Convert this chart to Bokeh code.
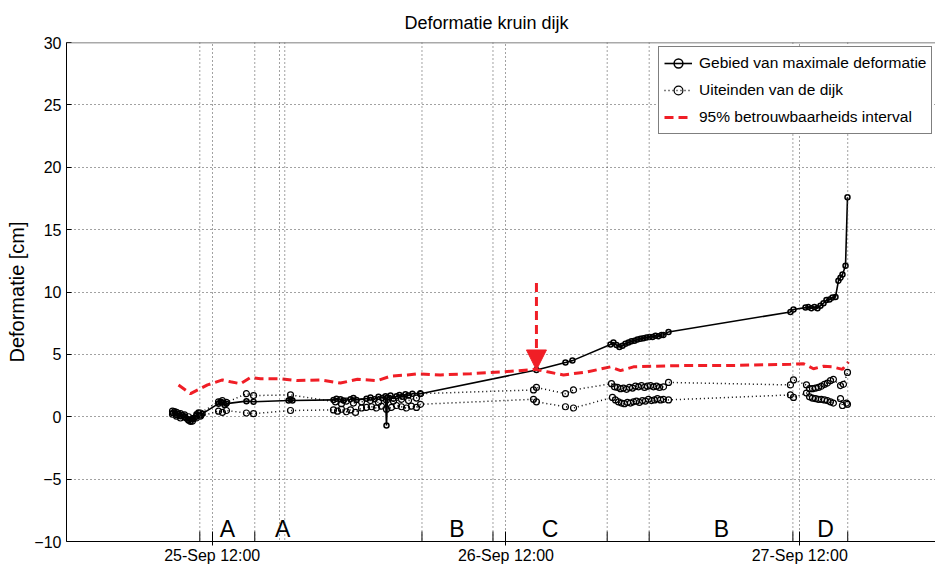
from bokeh.plotting import figure
from bokeh.models import Span, Legend, LegendItem, FixedTicker, Arrow, NormalHead
from bokeh.core.properties import value
from bokeh.embed import file_html
from bokeh.resources import INLINE

FONT = "Liberation Sans"

# time axis: hours since 25-Sep 00:00
tick_hours = [12, 36, 60]
tick_labels = ["25-Sep 12:00", "26-Sep 12:00", "27-Sep 12:00"]
y_ticks = [-10, -5, 0, 5, 10, 15, 20, 25, 30]

# Gebied van maximale deformatie
t_main = [8.76, 8.92, 9.09, 9.25, 9.41, 9.58, 9.74, 9.90, 10.07, 10.23, 10.39, 10.56, 10.72, 10.88, 11.05, 11.21,
          12.52, 12.68, 12.84, 13.01, 13.17, 14.80, 15.38, 18.24, 18.40, 18.56,
          21.91, 22.16, 22.48, 22.73, 23.30, 23.54, 23.79, 24.61, 24.93, 25.26, 25.59, 25.91, 26.16, 26.24,
          26.32, 26.57, 26.81, 27.06, 27.30, 27.55, 27.79, 28.04, 28.36, 29.02,
          38.49, 40.86, 41.43,
          44.54, 44.78, 45.03, 45.27, 45.52, 45.76, 46.01, 46.25, 46.50, 46.74, 46.99, 47.23, 47.48, 47.73,
          47.97, 48.22, 48.46, 48.71, 48.87, 49.28,
          59.24, 59.49, 60.47, 60.71, 60.96, 61.20, 61.45, 61.69, 61.94, 62.18, 62.43, 62.67, 62.92, 63.16,
          63.33, 63.49, 63.74, 63.90]
v_main = [0.30, 0.45, 0.15, 0.25, 0.05, 0.15, -0.05, -0.15, -0.30, -0.40, -0.20, -0.10, 0.20, 0.35, 0.10, 0.25,
          1.05, 1.20, 1.15, 0.95, 1.05, 1.25, 1.20, 1.30, 1.40, 1.30,
          1.35, 1.45, 1.40, 1.30, 1.40, 1.50, 1.35, 1.45, 1.55, 1.40, 1.60, 1.50, 1.65, -0.70,
          1.55, 1.70, 1.45, 1.65, 1.75, 1.60, 1.80, 1.70, 1.85, 1.85,
          3.75, 4.35, 4.50,
          5.80, 5.95, 5.75, 5.60, 5.70, 5.85, 5.95, 6.05, 6.10, 6.20, 6.25, 6.30, 6.35, 6.40,
          6.40, 6.50, 6.45, 6.55, 6.55, 6.80,
          8.40, 8.60, 8.75, 8.80, 8.70, 8.80, 8.70, 8.90, 9.10, 9.35, 9.40, 9.55, 9.60, 10.90,
          11.15, 11.40, 12.10, 17.60]

# Uiteinden van de dijk (upper end)
t_end1 = [8.76, 9.09, 9.41, 9.74, 10.07, 10.39, 10.72, 11.05,
          12.52, 12.84, 13.17, 14.80, 15.38, 18.40,
          22.07, 22.56, 22.97, 23.54, 24.20, 24.93, 25.59, 26.24, 26.81, 27.47, 28.04, 28.69, 29.02,
          38.25, 38.49, 40.86, 41.52,
          44.62, 44.87, 45.11, 45.36, 45.60, 45.85, 46.09, 46.34, 46.58, 46.83, 47.07, 47.32, 47.56,
          47.81, 48.05, 48.30, 48.54, 48.87, 49.28,
          59.24, 59.49, 60.55, 60.80, 61.04, 61.29, 61.53, 61.77, 62.02, 62.26, 62.51, 62.75, 63.33,
          63.57, 63.90]
v_end1 = [0.45, 0.35, 0.25, 0.15, 0.00, -0.15, 0.05, 0.30,
          1.20, 1.30, 1.15, 1.85, 1.70, 1.75,
          1.20, 1.05, 1.25, 1.10, 1.20, 1.30, 1.15, 1.35, 1.25, 1.40, 1.30, 1.50, 1.85,
          2.15, 2.35, 1.85, 2.15,
          2.65, 2.40, 2.35, 2.25, 2.30, 2.20, 2.35, 2.30, 2.45, 2.40, 2.50, 2.35, 2.45,
          2.50, 2.40, 2.45, 2.35, 2.40, 2.75,
          2.55, 2.95, 2.55, 2.25, 2.25, 2.30, 2.35, 2.45, 2.60, 2.70, 2.90, 3.00, 2.50,
          2.60, 3.55]

# Uiteinden van de dijk (lower end)
t_end2 = [8.76, 9.09, 9.41, 9.74, 10.07, 10.39, 10.72, 11.05,
          12.52, 12.84, 13.17, 14.80, 15.38, 18.40,
          21.91, 22.24, 22.56, 22.97, 23.30, 23.71, 24.20, 24.61, 25.02, 25.42, 25.83, 26.24, 26.65,
          27.06, 27.47, 27.87, 28.28, 28.69, 29.02,
          38.25, 38.49, 40.86, 41.52,
          44.70, 44.95, 45.19, 45.44, 45.68, 45.93, 46.17, 46.42, 46.66, 46.91, 47.15, 47.40, 47.64,
          47.89, 48.14, 48.38, 48.63, 48.87, 49.28,
          59.24, 59.49, 60.55, 60.80, 61.04, 61.29, 61.53, 61.77, 62.02, 62.26, 62.51, 62.75, 63.33,
          63.49, 63.82, 63.90]
v_end2 = [0.20, 0.05, -0.10, 0.00, -0.25, -0.35, -0.10, 0.05,
          0.45, 0.35, 0.50, 0.30, 0.25, 0.50,
          0.55, 0.45, 0.60, 0.40, 0.55, 0.35, 0.70, 0.75, 0.80, 0.70, 0.85, 0.60, 0.75,
          0.90, 0.80, 0.70, 0.85, 0.75, 1.00,
          1.40, 1.20, 0.80, 0.70,
          1.55, 1.35, 1.20, 1.10, 1.05, 1.15, 1.10, 1.20, 1.25, 1.15, 1.30, 1.25, 1.40,
          1.30, 1.35, 1.45, 1.35, 1.40, 1.35,
          1.75, 1.55, 1.90, 1.60, 1.50, 1.45, 1.40, 1.40, 1.35, 1.30, 1.20, 1.10, 1.45,
          0.90, 1.10, 1.00]

# 95% betrouwbaarheids interval
t_ci = [9.25, 10.23, 11.62, 12.84, 13.50, 14.31, 15.13, 15.95, 17.58, 18.97, 20.85, 22.48, 23.87, 25.51,
        26.57, 27.96, 28.77, 30.65, 33.10, 35.80, 38.41, 39.39, 40.70, 42.66, 44.54, 45.36, 46.42, 48.05,
        50.26, 53.77, 59.24, 60.31, 61.12, 61.94, 62.67, 63.49, 63.98]
v_ci = [2.55, 1.85, 2.55, 2.95, 2.80, 2.65, 3.15, 3.05, 3.05, 2.90, 2.95, 2.70, 3.00, 2.90,
        3.25, 3.35, 3.45, 3.35, 3.45, 3.60, 3.80, 3.60, 3.35, 3.60, 4.00, 3.70, 4.00, 4.05,
        4.10, 4.10, 4.20, 4.25, 3.85, 4.05, 4.00, 3.80, 4.40]

# periods (boundaries in hours) and their labels
period_bounds = [10.99, 15.48, 17.50, 17.93, 29.14, 34.94, 44.27, 47.70, 59.44, 63.92]
bracket_bounds = [10.99, 15.48, 29.14, 34.94, 44.27, 47.70, 59.44, 63.92]
period_labels = ["A", "A", "B", "C", "B", "D"]
period_label_t = [13.25, 17.75, 32.0, 39.6, 53.6, 62.1]

# arrow marking onset of failure
arrow_t = 38.49
arrow_from = 10.72
arrow_to = 3.75

RED = "#f01e26"
GRID = "#444444"

p = figure(width=935, height=568, x_range=(0.1, 71.09), y_range=(-10, 30),
           output_backend="svg", toolbar_location=None,
           min_border_left=66, min_border_right=0, min_border_top=42, min_border_bottom=27,
           background_fill_color="white", border_fill_color="white")
p.outline_line_color = None

p.title.text = "Deformatie kruin dijk"
p.title.text_font = FONT
p.title.text_font_size = "18px"
p.title.text_font_style = "normal"
p.title.text_color = "black"
p.title.align = "left"
p.title.offset = 338
p.title.standoff = 19

# axes
p.xaxis.ticker = FixedTicker(ticks=tick_hours)
p.xaxis.major_label_overrides = {t: l for t, l in zip(tick_hours, tick_labels)}
p.yaxis.ticker = FixedTicker(ticks=y_ticks)
for ax in (p.xaxis, p.yaxis):
    ax.minor_tick_line_color = None
    ax.axis_line_color = "black"
    ax.major_tick_line_color = "black"
    ax.major_label_text_font = FONT
    ax.major_label_text_font_size = "16px"
    ax.major_label_text_color = "black"
p.xaxis.major_tick_in = 10
p.xaxis.major_tick_out = 4
p.xaxis.major_label_standoff = 1
p.yaxis.major_tick_in = 5
p.yaxis.major_tick_out = 0
p.yaxis.major_label_standoff = 5
p.yaxis.axis_label = "Deformatie [cm]"
p.yaxis.axis_label_text_font = FONT
p.yaxis.axis_label_text_font_size = "20px"
p.yaxis.axis_label_text_font_style = "normal"
p.yaxis.axis_label_text_color = "black"
p.yaxis.axis_label_standoff = 3

p.xgrid.ticker = FixedTicker(ticks=tick_hours)
p.ygrid.ticker = FixedTicker(ticks=y_ticks)
for g in (p.xgrid, p.ygrid):
    g.grid_line_color = GRID
    g.grid_line_dash = "1 3"
    g.grid_line_width = 1

# top border
p.add_layout(Span(location=30, dimension="width", line_color="#555555", line_width=1.5))

# period boundaries
for b in period_bounds:
    p.add_layout(Span(location=b, dimension="height", line_color=GRID, line_dash="1 3", line_width=1))
p.segment(x0=bracket_bounds, y0=[-10] * len(bracket_bounds), x1=bracket_bounds,
          y1=[-9.2] * len(bracket_bounds), line_color="black", line_width=1)
p.text(x=period_label_t, y=[-10] * len(period_labels), text=period_labels,
       text_font=value(FONT), text_font_size=value("23px"), text_align="center",
       text_baseline="bottom", text_color="black")

# series
l_main = p.line(t_main, v_main, line_color="black", line_width=1.6)
s_main = p.scatter(t_main, v_main, size=5, marker="circle", fill_color=None, line_color="black", line_width=1.5)
l_e1 = p.line(t_end1, v_end1, line_color="black", line_width=1.5, line_dash="1 3")
s_e1 = p.scatter(t_end1, v_end1, size=6, marker="circle", fill_color=None, line_color="black", line_width=1.2)
l_e2 = p.line(t_end2, v_end2, line_color="black", line_width=1.5, line_dash="1 3")
s_e2 = p.scatter(t_end2, v_end2, size=6, marker="circle", fill_color=None, line_color="black", line_width=1.2)
l_ci = p.line(t_ci, v_ci, line_color=RED, line_width=3, line_dash="9 5")

p.add_layout(Arrow(end=NormalHead(size=20, fill_color=RED, line_color=RED, line_width=1),
                   x_start=arrow_t, y_start=arrow_from, x_end=arrow_t, y_end=arrow_to,
                   line_color=RED, line_width=3, line_dash="9 5"))

legend = Legend(items=[
    LegendItem(label="Gebied van maximale deformatie", renderers=[l_main, s_main]),
    LegendItem(label="Uiteinden van de dijk", renderers=[l_e1, s_e1]),
    LegendItem(label="95% betrouwbaarheids interval", renderers=[l_ci]),
], location=(592, 407))
legend.label_text_font = FONT
legend.label_text_font_size = "15.5px"
legend.label_text_color = "black"
legend.border_line_color = "black"
legend.border_line_width = 1
legend.background_fill_color = "white"
legend.background_fill_alpha = 1
legend.glyph_width = 28
legend.glyph_height = 22
legend.label_height = 22
legend.label_standoff = 7
legend.padding = 5
legend.spacing = 5
legend.margin = 0
p.add_layout(legend)

open("out.html", "w").write(file_html(p, INLINE))
